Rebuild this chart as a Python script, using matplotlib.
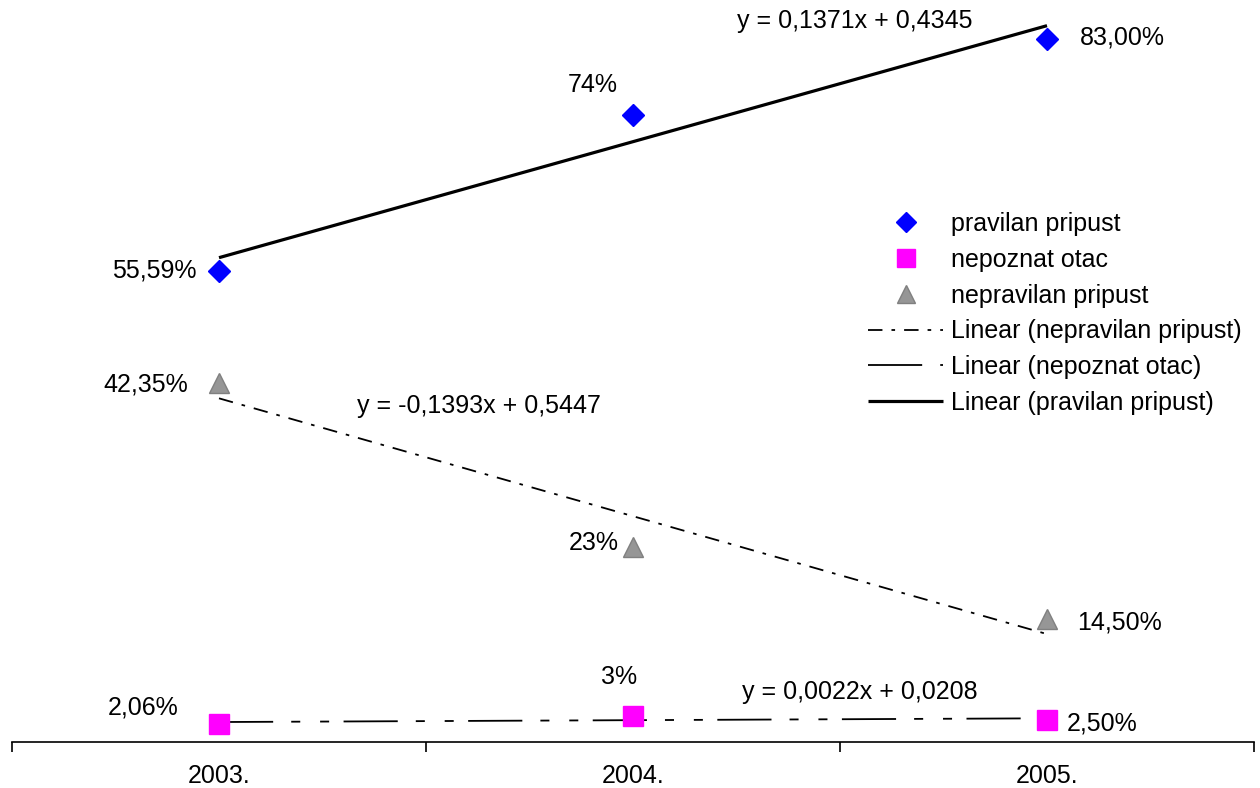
import numpy as np
from decimal import Decimal, ROUND_HALF_UP
import matplotlib
matplotlib.use('Agg')
import matplotlib.pyplot as plt

plt.rcParams['font.family'] = ['Liberation Sans', 'DejaVu Sans']

godine = ['2003.', '2004.', '2005.']
pravilan = [0.5559, 0.74, 0.83]
nepoznat = [0.0206, 0.03, 0.025]
nepravilan = [0.4235, 0.23, 0.145]

lab_pravilan = ['55,59%', '74%', '83,00%']
lab_nepoznat = ['2,06%', '3%', '2,50%']
lab_nepravilan = ['42,35%', '23%', '14,50%']

x = np.arange(1, len(godine) + 1)

fig = plt.figure(figsize=(12.6, 7.88), dpi=100)
ax = fig.add_axes([12 / 1260, 46.5 / 788, 1242 / 1260, 741.5 / 788])
ax.set_xlim(0.5, 3.5)
ax.set_ylim(0, 0.876)

# trend lines (Excel style linear fit)
def trend(vals):
    k, n = np.polyfit(x, vals, 1)
    return k, n, k * x + n

k1, n1, t1 = trend(pravilan)
k2, n2, t2 = trend(nepoznat)
k3, n3, t3 = trend(nepravilan)

ax.plot(x, pravilan, 'D', color='#0000FF', ms=11, mec='#0000FF', ls='none',
        label='pravilan pripust', zorder=3, clip_on=False)
ax.plot(x, nepoznat, 's', color='#FF00FF', ms=14, mec='#FF00FF', ls='none',
        label='nepoznat otac', zorder=3, clip_on=False)
ax.plot(x, nepravilan, '^', color='#969696', ms=15, mec='#808080', ls='none',
        label='nepravilan pripust', zorder=3, clip_on=False)

ax.plot(x, t3, color='black', lw=1.3, ls=(0, (8, 5, 2, 5)),
        label='Linear (nepravilan pripust)', zorder=2)
ax.plot(x, t2, color='black', lw=1.3, ls=(0, (30, 10, 5, 11, 5, 8)),
        label='Linear (nepoznat otac)', zorder=2)
ax.plot(x, t1, color='black', lw=2.3, solid_capstyle='butt',
        label='Linear (pravilan pripust)', zorder=2)

fs = 18

def zaokruzi(v):
    d = Decimal(str(round(float(v), 10))).quantize(Decimal('0.0001'), rounding=ROUND_HALF_UP)
    return str(d).replace('.', ',')

def fmt(k, n):
    znak = '+' if n >= 0 else '-'
    return 'y = %sx %s %s' % (zaokruzi(k), znak, zaokruzi(abs(n)))

# data labels (offsets in pixels)
off_pravilan = [(-22, 0, 'right'), (-40, 30, 'center'), (33, 1, 'left')]
off_nepoznat = [(-76, 17, 'center'), (-14, 39, 'center'), (20, -3, 'left')]
off_nepravilan = [(-31, -1, 'right'), (-14, 4, 'right'), (30, -4, 'left')]

for vals, labs, offs in [(pravilan, lab_pravilan, off_pravilan),
                         (nepoznat, lab_nepoznat, off_nepoznat),
                         (nepravilan, lab_nepravilan, off_nepravilan)]:
    for xi, v, l, (dx, dy, ha) in zip(x, vals, labs, offs):
        ax.annotate(l, (xi, v), xytext=(dx, dy), textcoords='offset pixels',
                    ha=ha, va='center', fontsize=fs, annotation_clip=False)

ax.text(2.251, 0.851, fmt(k1, n1), fontsize=fs, va='center', ha='left')
ax.text(1.333, 0.396, fmt(k3, n3), fontsize=fs, va='center', ha='left')
ax.text(2.263, 0.0585, fmt(k2, n2), fontsize=fs, va='center', ha='left')

# axes styling
for s in ['top', 'right', 'left']:
    ax.spines[s].set_visible(False)
ax.spines['bottom'].set_linewidth(1.2)
ax.spines['bottom'].set_color('black')
ax.set_yticks([])
ax.set_xticks(x)
ax.set_xticklabels(godine, fontsize=fs)
ax.tick_params(axis='x', which='major', length=0, pad=16)
ax.set_xticks([0.5, 1.5, 2.5, 3.5], minor=True)
ax.tick_params(axis='x', which='minor', length=7, width=1.2, direction='out', color='black')

ax.legend(loc='upper left', bbox_to_anchor=(868 / 1260, 1 - 212 / 788),
          bbox_transform=fig.transFigure, frameon=False, fontsize=fs,
          handlelength=3.0, handletextpad=0.32, labelspacing=0.47,
          borderpad=0, borderaxespad=0, numpoints=1, markerscale=0.9)

plt.savefig('out.png', dpi=100)
